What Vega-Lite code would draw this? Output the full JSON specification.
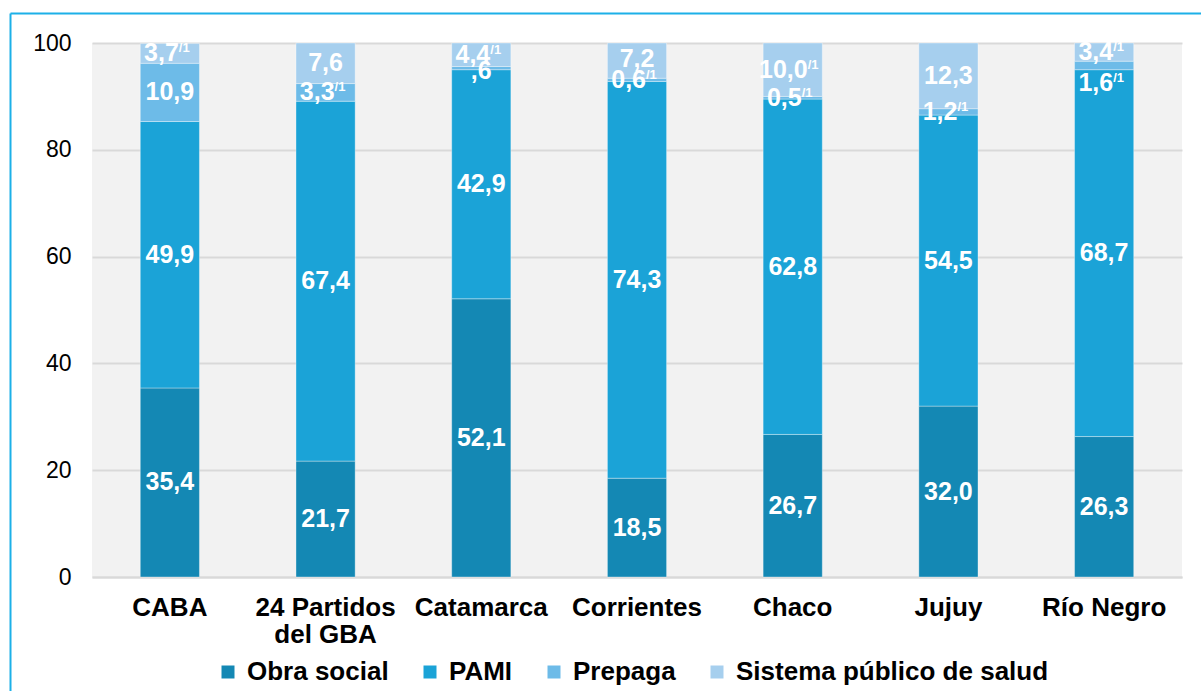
{
  "$schema": "https://vega.github.io/schema/vega-lite/v6.json",
  "width": 1090,
  "height": 534,
  "autosize": {"type": "none"},
  "padding": {"left": 92, "top": 43, "right": 19, "bottom": 114},
  "background": "white",
  "config": {
    "view": {"fill": "#F2F2F2", "stroke": null},
    "font": "Liberation Sans"
  },
  "resolve": {"scale": {"x": "independent", "y": "independent"}, "axis": {"x": "independent", "y": "independent"}},
  "layer": [
    {
      "data": {"values": []},
      "mark": {"type": "point", "opacity": 0},
      "encoding": {
        "x": {"field": "fx", "type": "quantitative", "scale": {"domain": [0, 1], "range": [-82, 1115], "nice": false, "zero": false},
          "axis": {"orient": "top", "offset": 30, "domainColor": "#1CB0E8", "domainWidth": 2, "labels": false, "ticks": false, "grid": false, "title": null}},
        "y": {"field": "fy", "type": "quantitative", "scale": {"domain": [0, 1], "range": [652, -30], "nice": false, "zero": false},
          "axis": {"orient": "left", "offset": 82, "domainColor": "#1CB0E8", "domainWidth": 2, "labels": false, "ticks": false, "grid": false, "title": null}}
      }
    },
    {
      "data": {"values": [
        {"cat": "CABA", "serie": "Obra social", "value": 35.4, "label": "35,4", "sup": ""},
        {"cat": "CABA", "serie": "PAMI", "value": 49.9, "label": "49,9", "sup": ""},
        {"cat": "CABA", "serie": "Prepaga", "value": 10.9, "label": "10,9", "sup": ""},
        {"cat": "CABA", "serie": "Sistema público de salud", "value": 3.7, "label": "3,7", "sup": "/1"},
        {"cat": "24 Partidos del GBA", "serie": "Obra social", "value": 21.7, "label": "21,7", "sup": ""},
        {"cat": "24 Partidos del GBA", "serie": "PAMI", "value": 67.4, "label": "67,4", "sup": ""},
        {"cat": "24 Partidos del GBA", "serie": "Prepaga", "value": 3.3, "label": "3,3", "sup": "/1"},
        {"cat": "24 Partidos del GBA", "serie": "Sistema público de salud", "value": 7.6, "label": "7,6", "sup": ""},
        {"cat": "Catamarca", "serie": "Obra social", "value": 52.1, "label": "52,1", "sup": ""},
        {"cat": "Catamarca", "serie": "PAMI", "value": 42.9, "label": "42,9", "sup": ""},
        {"cat": "Catamarca", "serie": "Prepaga", "value": 0.6, "label": ",6", "sup": ""},
        {"cat": "Catamarca", "serie": "Sistema público de salud", "value": 4.4, "label": "4,4", "sup": "/1"},
        {"cat": "Corrientes", "serie": "Obra social", "value": 18.5, "label": "18,5", "sup": ""},
        {"cat": "Corrientes", "serie": "PAMI", "value": 74.3, "label": "74,3", "sup": ""},
        {"cat": "Corrientes", "serie": "Prepaga", "value": 0.6, "label": "0,6", "sup": "/1"},
        {"cat": "Corrientes", "serie": "Sistema público de salud", "value": 7.2, "label": "7,2", "sup": ""},
        {"cat": "Chaco", "serie": "Obra social", "value": 26.7, "label": "26,7", "sup": ""},
        {"cat": "Chaco", "serie": "PAMI", "value": 62.8, "label": "62,8", "sup": ""},
        {"cat": "Chaco", "serie": "Prepaga", "value": 0.5, "label": "0,5", "sup": "/1"},
        {"cat": "Chaco", "serie": "Sistema público de salud", "value": 10.0, "label": "10,0", "sup": "/1"},
        {"cat": "Jujuy", "serie": "Obra social", "value": 32.0, "label": "32,0", "sup": ""},
        {"cat": "Jujuy", "serie": "PAMI", "value": 54.5, "label": "54,5", "sup": ""},
        {"cat": "Jujuy", "serie": "Prepaga", "value": 1.2, "label": "1,2", "sup": "/1"},
        {"cat": "Jujuy", "serie": "Sistema público de salud", "value": 12.3, "label": "12,3", "sup": ""},
        {"cat": "Río Negro", "serie": "Obra social", "value": 26.3, "label": "26,3", "sup": ""},
        {"cat": "Río Negro", "serie": "PAMI", "value": 68.7, "label": "68,7", "sup": ""},
        {"cat": "Río Negro", "serie": "Prepaga", "value": 1.6, "label": "1,6", "sup": "/1"},
        {"cat": "Río Negro", "serie": "Sistema público de salud", "value": 3.4, "label": "3,4", "sup": "/1"}
      ]},
      "transform": [
        {"calculate": "indexof(['Obra social','PAMI','Prepaga','Sistema público de salud'], datum.serie)", "as": "ord"},
        {"stack": "value", "groupby": ["cat"], "sort": [{"field": "ord", "order": "ascending"}], "as": ["v0", "v1"]},
        {"calculate": "(datum.v0 + datum.v1) / 2", "as": "mid"}
      ],
      "encoding": {
        "x": {"field": "cat", "type": "nominal", "sort": null,
          "scale": {"paddingInner": 0.62, "paddingOuter": 0.31},
          "axis": {"orient": "bottom", "title": null, "labelAngle": 0, "domainColor": "#D9D9D9", "domainWidth": 2, "ticks": false, "tickSize": 0,
            "labelFont": "Liberation Sans", "labelFontSize": 26, "labelFontWeight": "bold", "labelColor": "#000000",
            "labelPadding": 17, "labelLineHeight": 27, "labelLimit": 0,
            "labelExpr": "datum.value == '24 Partidos del GBA' ? ['24 Partidos', 'del GBA'] : datum.value"}}
      },
      "layer": [
        {
          "mark": {"type": "bar", "stroke": "#FFFFFF", "strokeOpacity": 0.35, "strokeWidth": 1},
          "encoding": {
            "y": {"field": "v0", "type": "quantitative",
              "scale": {"domain": [0, 100], "nice": false, "clamp": true},
              "axis": {"orient": "left", "title": null, "values": [0, 20, 40, 60, 80, 100], "domain": false, "ticks": false, "tickSize": 0,
                "grid": true, "gridColor": "#D9D9D9", "gridWidth": 2,
                "labelFont": "Liberation Sans", "labelFontSize": 23, "labelColor": "#000000", "labelPadding": 21}},
            "y2": {"field": "v1"},
            "color": {"field": "serie", "type": "nominal",
              "scale": {"domain": ["Obra social", "PAMI", "Prepaga", "Sistema público de salud"],
                "range": ["#1488B4", "#1BA3D7", "#6DBBE8", "#A6CFEE"]},
              "legend": {"orient": "none", "legendX": 123, "legendY": 616, "direction": "horizontal", "title": null,
                "symbolType": "square", "symbolSize": 169, "symbolStrokeWidth": 0, "symbolOpacity": 1,
                "labelFont": "Liberation Sans", "labelFontSize": 26, "labelFontWeight": "bold", "labelColor": "#000000",
                "labelOffset": 6, "columnPadding": 28, "labelLimit": 0}}
          }
        },
        {
          "mark": {"type": "text", "color": "#FFFFFF", "font": "Liberation Sans", "fontSize": 25, "fontWeight": "bold", "baseline": "middle",
            "align": {"expr": "datum.sup != '' ? 'right' : 'center'"},
            "dx": {"expr": "datum.sup != '' ? (length(datum.label) > 3 ? 15 : 9) : 0"},
            "dy": {"expr": "datum.cat == 'Río Negro' && datum.serie == 'Prepaga' ? 18 : (datum.cat == 'Catamarca' && datum.serie == 'Prepaga' ? 3 : 0)"}},
          "encoding": {
            "y": {"field": "mid", "type": "quantitative"},
            "text": {"field": "label"}
          }
        },
        {
          "transform": [{"filter": "datum.sup != ''"}],
          "mark": {"type": "text", "color": "#FFFFFF", "font": "Liberation Sans", "fontSize": 13, "fontWeight": "bold", "baseline": "middle", "align": "left",
            "dx": {"expr": "length(datum.label) > 3 ? 15 : 9"},
            "dy": {"expr": "(datum.cat == 'Río Negro' && datum.serie == 'Prepaga' ? 18 : 0) - 5"}},
          "encoding": {
            "y": {"field": "mid", "type": "quantitative"},
            "text": {"field": "sup"}
          }
        }
      ]
    }
  ]
}
